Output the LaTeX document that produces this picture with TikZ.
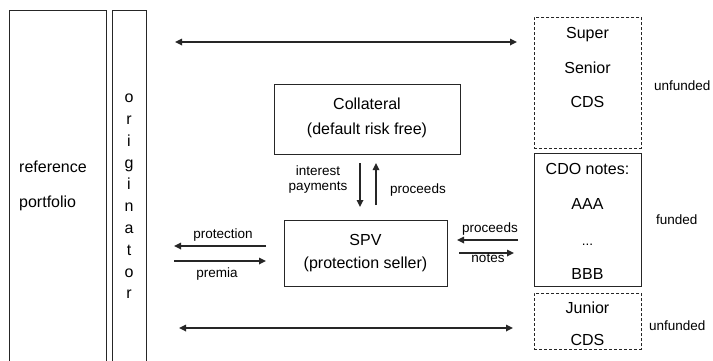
\documentclass[tikz,border=0pt]{standalone}
\usepackage{fontspec}
\setmainfont{Liberation Sans}
\usetikzlibrary{arrows.meta}
\begin{document}
\begin{tikzpicture}[x=1pt,y=-1pt,
  box/.style={draw=black!85, line width=0.9pt, inner sep=0pt, anchor=north west},
  dbox/.style={box, dash pattern=on 3pt off 2pt},
  big/.style={font=\fontsize{16}{20}\selectfont, inner sep=0pt, text height=0.72em, text depth=0.2em, yshift=-3pt},
  small/.style={font=\fontsize{13.5}{16}\selectfont, inner sep=0pt, text height=0.72em, text depth=0.2em, yshift=-2.5pt},
  arr/.style={draw=black!85, line width=1.6pt, -{Triangle[length=7pt,width=6.5pt]}},
  darr/.style={draw=black!85, line width=1.6pt, {Triangle[length=7pt,width=6.5pt]}-{Triangle[length=7pt,width=6.5pt]}}]
\clip (0,0) rectangle (713,360);
\fill[white] (0,0) rectangle (713,360);

% left boxes (open at the bottom, clipped)
\node[box, minimum width=97pt, minimum height=400pt] (ref) at (9,10) {};
\node[box, minimum width=34pt, minimum height=400pt] (orig) at (112,10) {};
\node[big, anchor=west] (reft) at (19,167) {reference};
\node[big, anchor=west] (portt) at (19,202) {portfolio};
\foreach \l [count=\i] in {o,r,i,g,i,n,a,t,o,r}
  \node[big] (or\i) at (129,{97+21.8*(\i-1)}) {\l};

% tranche boxes
\node[dbox, minimum width=107pt, minimum height=131pt] (ss) at (534,17) {};
\node[box, minimum width=107pt, minimum height=133pt] (cdo) at (534,153) {};
\node[dbox, minimum width=107pt, minimum height=56pt] (jun) at (534,293) {};
\node[big] (ss1) at (587.5,33) {Super};
\node[big] (ss2) at (587.5,68) {Senior};
\node[big] (ss3) at (587.5,102) {CDS};
\node[big] (c1) at (587.5,169) {CDO notes:};
\node[big] (c2) at (587.5,204) {AAA};
\node[small] (c3) at (587.5,240) {...};
\node[big] (c4) at (587.5,274) {BBB};
\node[big] (j1) at (587.5,308) {Junior};
\node[big] (j2) at (587.5,339.5) {CDS};
\node[small, anchor=west] (uf1) at (654,85) {unfunded};
\node[small, anchor=west] (fu) at (656,219) {funded};
\node[small, anchor=west] (uf2) at (649,325) {unfunded};

% middle boxes
\node[box, minimum width=186pt, minimum height=70pt] (coll) at (274,84) {};
\node[big] (coll1) at (367,104) {Collateral};
\node[big] (coll2) at (367,129) {(default risk free)};
\node[box, minimum width=163pt, minimum height=66pt] (spv) at (284,220) {};
\node[big] (spv1) at (365.5,240) {SPV};
\node[big] (spv2) at (365.5,263) {(protection seller)};

% vertical arrows
\coordinate (dA) at (360,163); \coordinate (dB) at (360,207);
\coordinate (uA) at (376,205); \coordinate (uB) at (376,163);
\draw[arr] (dA) -- (dB);
\draw[arr] (uA) -- (uB);
\node[small, align=center, font=\fontsize{13.5}{15}\selectfont] (ip) at (318,185) {interest\\payments};
\node[small] (pr1) at (418,188) {proceeds};

% left arrows
\coordinate (pL) at (174,246); \coordinate (pR) at (266,246);
\coordinate (mL) at (174,261); \coordinate (mR) at (266,261);
\draw[arr] (pR) -- (pL);
\draw[arr] (mL) -- (mR);
\node[small] (prot) at (223,233) {protection};
\node[small] (prem) at (217,272) {premia};

% right arrows
\coordinate (qR) at (518,240); \coordinate (qL) at (457,240);
\coordinate (nL) at (459,253); \coordinate (nR) at (514,253);
\draw[arr] (qR) -- (qL);
\draw[arr] (nL) -- (nR);
\node[small] (pr2) at (490,227) {proceeds};
\node[small] (notes) at (488,257.5) {notes};

% long double arrows
\coordinate (tL) at (175,42); \coordinate (tR) at (517,42);
\coordinate (bL) at (179,328); \coordinate (bR) at (513,328);
\draw[darr] (tL) -- (tR);
\draw[darr] (bL) -- (bR);
\end{tikzpicture}
\end{document}
